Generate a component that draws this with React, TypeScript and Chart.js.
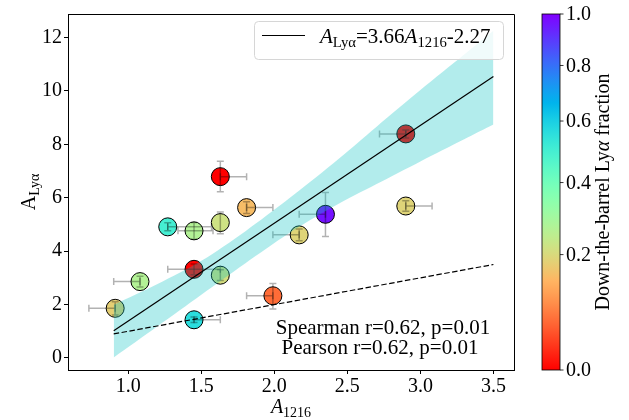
import React, { useEffect, useRef } from 'react';
import { Chart, registerables } from 'chart.js';
Chart.register(...registerables);

// ---- data ----
const xVals = [0.91, 1.08, 1.27, 1.45, 1.45, 1.45, 1.63, 1.63, 1.63, 1.81, 1.99, 2.17, 2.35, 2.90, 2.90];
const yVals = [1.86, 2.86, 4.91, 4.76, 3.32, 1.43, 6.79, 5.07, 3.10, 5.63, 2.33, 4.61, 5.38, 5.69, 8.39];
const fracVals = [0.18, 0.27, 0.50, 0.27, 0.0, 0.56, 0.0, 0.22, 0.21, 0.15, 0.06, 0.19, 0.97, 0.19, 0.0];
const xErrLo = [0.18, 0.18, 0, 0.11, 0.18, 0, 0, 0, 0, 0, 0.18, 0.18, 0.18, 0, 0.18];
const xErrHi = [0, 0, 0.30, 0.13, 0.18, 0.18, 0.18, 0, 0, 0.18, 0, 0, 0, 0.18, 0];
const yErrLo = [0.25, 0.2, 0.15, 0.31, 0.2, 0.1, 0.57, 0.42, 0.2, 0.22, 0.5, 0.22, 0.83, 0.2, 0.15];
const yErrHi = [0.25, 0.2, 0.15, 0.31, 0.2, 0.1, 0.58, 0.40, 0.2, 0.22, 0.46, 0.22, 0.82, 0.2, 0.15];

const fitX = [0.9, 3.5];
const fitY = [1.02, 10.54];
const oneX = [0.9, 3.5];
const oneY = [0.9, 3.5];

const bandX = [0.9, 1.2, 1.5, 1.8, 2.1, 2.4, 2.7, 3.0, 3.3, 3.5];
const bandHi = [1.99, 2.77, 3.64, 4.74, 5.97, 7.27, 8.66, 10.03, 11.36, 12.25];
const bandLo = [0.02, 1.19, 2.37, 3.54, 4.67, 5.65, 6.51, 7.36, 8.19, 8.74];

const xTicks = [1.0, 1.5, 2.0, 2.5, 3.0, 3.5];
const yTicks = [0, 2, 4, 6, 8, 10, 12];
const cbTicks = [0.0, 0.2, 0.4, 0.6, 0.8, 1.0];
const cbGamma = 0.7;

const legendLabel = [
  { t: 'A', it: true },
  { t: 'Lyα', sub: true },
  { t: '=3.66' },
  { t: 'A', it: true },
  { t: '1216', sub: true },
  { t: '-2.27' },
];
const statLines = ['Spearman r=0.62, p=0.01', 'Pearson r=0.62, p=0.01'];
const xLabel = [{ t: 'A', it: true }, { t: '1216', sub: true }];
const yLabel = [{ t: 'A' }, { t: 'Lyα', sub: true }];
const cbLabel = [{ t: 'Down-the-barrel Ly' }, { t: 'α', it: true }, { t: ' fraction' }];

const FONT = '"Liberation Serif", "Times New Roman", serif';

function rainbow(t: number) {
  const r = Math.min(1, Math.max(0, Math.abs(2 * t - 0.5)));
  const g = Math.min(1, Math.max(0, Math.sin(Math.PI * t)));
  const b = Math.min(1, Math.max(0, Math.cos((Math.PI * t) / 2)));
  return `rgb(${Math.round(r * 255)},${Math.round(g * 255)},${Math.round(b * 255)})`;
}
function fracColor(f: number) {
  return rainbow(1 - Math.pow(f, cbGamma));
}

type Seg = { t: string; it?: boolean; sub?: boolean };
function segFont(s: Seg, size: number) {
  return `${s.it ? 'italic ' : ''}${s.sub ? size * 0.7 : size}px ${FONT}`;
}
function richWidth(ctx: CanvasRenderingContext2D, segs: Seg[], size: number) {
  let w = 0;
  for (const s of segs) {
    ctx.font = segFont(s, size);
    w += ctx.measureText(s.t).width;
  }
  return w;
}
function drawRich(ctx: CanvasRenderingContext2D, segs: Seg[], x: number, y: number, size: number, align: string) {
  const w = richWidth(ctx, segs, size);
  let cx = align === 'center' ? x - w / 2 : x;
  ctx.textBaseline = 'alphabetic';
  ctx.textAlign = 'left';
  for (const s of segs) {
    ctx.font = segFont(s, size);
    ctx.fillText(s.t, cx, s.sub ? y + size * 0.2 : y);
    cx += ctx.measureText(s.t).width;
  }
}

const errPlugin = {
  id: 'errbars',
  afterDatasetDraw(chart: any, args: any) {
    if (args.index !== 0) return;
    const { ctx } = chart;
    const xs = chart.scales.x;
    const ys = chart.scales.y;
    ctx.save();
    ctx.strokeStyle = 'rgba(0,0,0,0.3)';
    ctx.lineWidth = 1.5;
    const cap = 3.5;
    for (let i = 0; i < xVals.length; i++) {
      const px = xs.getPixelForValue(xVals[i]);
      const py = ys.getPixelForValue(yVals[i]);
      if (xErrLo[i] > 0 || xErrHi[i] > 0) {
        const x0 = xs.getPixelForValue(xVals[i] - xErrLo[i]);
        const x1 = xs.getPixelForValue(xVals[i] + xErrHi[i]);
        ctx.beginPath();
        ctx.moveTo(x0, py); ctx.lineTo(x1, py);
        ctx.moveTo(x0, py - cap); ctx.lineTo(x0, py + cap);
        ctx.moveTo(x1, py - cap); ctx.lineTo(x1, py + cap);
        ctx.stroke();
      }
      if (yErrLo[i] > 0 || yErrHi[i] > 0) {
        const y0 = ys.getPixelForValue(yVals[i] - yErrLo[i]);
        const y1 = ys.getPixelForValue(yVals[i] + yErrHi[i]);
        ctx.beginPath();
        ctx.moveTo(px, y0); ctx.lineTo(px, y1);
        ctx.moveTo(px - cap, y0); ctx.lineTo(px + cap, y0);
        ctx.moveTo(px - cap, y1); ctx.lineTo(px + cap, y1);
        ctx.stroke();
      }
    }
    ctx.restore();
  },
};

const decoPlugin = {
  id: 'deco',
  afterDraw(chart: any) {
    const { ctx, chartArea: a } = chart;
    ctx.save();
    // top / right spines
    ctx.strokeStyle = '#000';
    ctx.lineWidth = 1;
    ctx.beginPath();
    ctx.moveTo(a.left, a.top + 0.5); ctx.lineTo(a.right + 0.5, a.top + 0.5);
    ctx.lineTo(a.right + 0.5, a.bottom);
    ctx.stroke();

    // legend
    const lx0 = 254.5, ly0 = 21.5, lx1 = 503.5, ly1 = 59.5;
    ctx.beginPath();
    const rr = 4;
    ctx.moveTo(lx0 + rr, ly0);
    ctx.arcTo(lx1, ly0, lx1, ly1, rr);
    ctx.arcTo(lx1, ly1, lx0, ly1, rr);
    ctx.arcTo(lx0, ly1, lx0, ly0, rr);
    ctx.arcTo(lx0, ly0, lx1, ly0, rr);
    ctx.closePath();
    ctx.fillStyle = 'rgba(255,255,255,0.8)';
    ctx.fill();
    ctx.strokeStyle = 'rgba(214,214,214,1)';
    ctx.lineWidth = 1;
    ctx.stroke();
    ctx.strokeStyle = '#000';
    ctx.lineWidth = 1.2;
    ctx.beginPath();
    ctx.moveTo(262, 35.5); ctx.lineTo(305, 35.5);
    ctx.stroke();
    ctx.fillStyle = '#000';
    drawRich(ctx, legendLabel, 320, 43, 21, 'left');

    // stats
    drawRich(ctx, [{ t: statLines[0] }], 383, 334, 21, 'center');
    drawRich(ctx, [{ t: statLines[1] }], 380, 354, 21, 'center');

    // axis labels
    drawRich(ctx, xLabel, (a.left + a.right) / 2, 413, 20, 'center');
    ctx.save();
    ctx.translate(35, (a.top + a.bottom) / 2);
    ctx.rotate(-Math.PI / 2);
    drawRich(ctx, yLabel, 0, 0, 20, 'center');
    ctx.restore();

    // colorbar
    const cx0 = 542, cx1 = 560, cy0 = a.top, cy1 = a.bottom;
    const grad = ctx.createLinearGradient(0, cy1, 0, cy0);
    for (let k = 0; k <= 64; k++) {
      const n = k / 64;
      grad.addColorStop(n, rainbow(1 - n));
    }
    ctx.fillStyle = grad;
    ctx.fillRect(cx0, cy0, cx1 - cx0, cy1 - cy0);
    ctx.strokeStyle = '#000';
    ctx.lineWidth = 0.8;
    ctx.strokeRect(cx0, cy0, cx1 - cx0, cy1 - cy0);
    ctx.fillStyle = '#000';
    ctx.font = `20px ${FONT}`;
    ctx.textAlign = 'left';
    ctx.textBaseline = 'middle';
    for (const f of cbTicks) {
      const ty = cy1 - Math.pow(f, cbGamma) * (cy1 - cy0);
      ctx.beginPath();
      ctx.moveTo(cx1, ty); ctx.lineTo(cx1 + 3.5, ty);
      ctx.stroke();
      ctx.fillText(f.toFixed(1), cx1 + 6, ty + 1);
    }
    ctx.save();
    ctx.translate(609, (cy0 + cy1) / 2);
    ctx.rotate(-Math.PI / 2);
    drawRich(ctx, cbLabel, 0, 0, 20, 'center');
    ctx.restore();

    ctx.restore();
  },
};

export default function App() {
  const ref = useRef<HTMLCanvasElement | null>(null);
  useEffect(() => {
    if (!ref.current) return;
    const pts = xVals.map((x, i) => ({ x, y: yVals[i] }));
    const chart = new Chart(ref.current, {
      type: 'scatter',
      data: {
        datasets: [
          {
            data: pts,
            backgroundColor: fracVals.map(fracColor),
            borderColor: '#000',
            borderWidth: 1,
            pointRadius: 9,
            pointHoverRadius: 9,
            order: 10,
          } as any,
          {
            type: 'line',
            data: bandX.map((x, i) => ({ x, y: bandHi[i] })),
            borderWidth: 0,
            borderColor: 'rgba(0,0,0,0)',
            pointRadius: 0,
            fill: '+1',
            backgroundColor: 'rgba(0,191,191,0.3)',
            tension: 0.3,
            order: 5,
          } as any,
          {
            type: 'line',
            data: bandX.map((x, i) => ({ x, y: bandLo[i] })),
            borderWidth: 0,
            borderColor: 'rgba(0,0,0,0)',
            pointRadius: 0,
            fill: false,
            tension: 0.3,
            order: 6,
          } as any,
          {
            type: 'line',
            data: oneX.map((x, i) => ({ x, y: oneY[i] })),
            borderColor: '#000',
            borderWidth: 1.2,
            borderDash: [5.5, 2.5],
            pointRadius: 0,
            fill: false,
            order: 2,
          } as any,
          {
            type: 'line',
            data: fitX.map((x, i) => ({ x, y: fitY[i] })),
            borderColor: '#000',
            borderWidth: 1.2,
            pointRadius: 0,
            fill: false,
            order: 1,
          } as any,
        ],
      },
      options: {
        animation: false,
        responsive: false,
        devicePixelRatio: 1,
        layout: { padding: { left: 0, top: 11, right: 115, bottom: 0 } },
        plugins: { legend: { display: false }, tooltip: { enabled: false } },
        events: [],
        scales: {
          x: {
            type: 'linear',
            min: 0.587,
            max: 3.641,
            afterBuildTicks: (s: any) => { s.ticks = xTicks.map((v) => ({ value: v })); },
            afterFit: (s: any) => { s.height = 50; },
            ticks: {
              font: { family: FONT, size: 20 },
              color: '#000',
              padding: 1,
              maxRotation: 0,
              callback: (v: any) => Number(v).toFixed(1),
            },
            grid: { drawOnChartArea: false, drawTicks: true, tickLength: 4, color: '#000' },
            border: { display: true, color: '#000', width: 1 },
          },
          y: {
            type: 'linear',
            min: -0.45,
            max: 12.88,
            afterBuildTicks: (s: any) => { s.ticks = yTicks.map((v) => ({ value: v })); },
            afterFit: (s: any) => { s.width = 68; },
            ticks: {
              font: { family: FONT, size: 20 },
              color: '#000',
              padding: 2,
              callback: (v: any) => String(v),
            },
            grid: { drawOnChartArea: false, drawTicks: true, tickLength: 4, color: '#000' },
            border: { display: true, color: '#000', width: 1 },
          },
        },
      } as any,
      plugins: [errPlugin, decoPlugin],
    });
    return () => chart.destroy();
  }, []);
  return (
    <div style={{ position: 'fixed', left: 0, top: 0, width: 629, height: 420, background: '#fff' }}>
      <canvas ref={ref} width={629} height={420} style={{ width: 629, height: 420, display: 'block' }} />
    </div>
  );
}
